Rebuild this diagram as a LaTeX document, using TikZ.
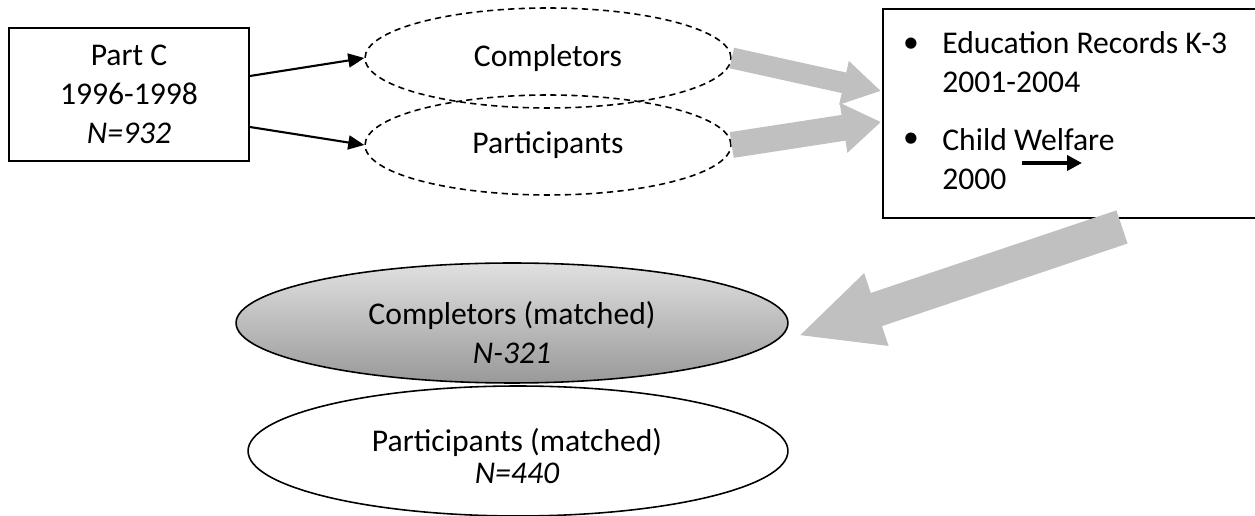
\documentclass[tikz,border=0pt]{standalone}
\usepackage{fontspec}
\setmainfont{Carlito}
\usepackage{tikz}
\usetikzlibrary{shapes,arrows.meta,calc}
\definecolor{arrowgray}{HTML}{C0C0C0}
\tikzstyle{box} = [draw, line width=1.1pt, rectangle, inner sep=0pt, align=center]
\tikzstyle{dashellipse} = [draw, ellipse, line width=0.9pt, dash pattern=on 3.5pt off 2.5pt, minimum width=7.32cm, minimum height=2cm, inner sep=0pt]
\tikzstyle{matchellipse} = [draw, ellipse, line width=0.9pt, inner sep=0pt]
\tikzstyle{thinarrow} = [line width=1.2pt, -{Triangle[length=0.32cm,width=0.28cm]}]
\tikzstyle{fatarrow} = [arrowgray]

\begin{document}
\begin{tikzpicture}[x=0.02cm, y=-0.02cm, every node/.style={font=\fontsize{18}{22}\selectfont}]
	\useasboundingbox (0,0) rectangle (1255,516);
	% source
	\node[box, minimum width=4.8cm, minimum height=2.66cm] (partc) at (129,94.5) {Part C\\1996-1998\\\textit{N=932}};
	\node[dashellipse] (comp) at (548,58) {Completors};
	\node[dashellipse] (part) at (548,145) {Participants};
	\draw[thinarrow] ($(partc.east)+(0,-18.5)$) -- (comp.west);
	\draw[thinarrow] ($(partc.east)+(0,32.5)$) -- (part.west);
	% records
	\node[box, minimum width=7.54cm, minimum height=4.18cm] (recbox) at (1071.5,113.5) {};
	\node (bul1) at (911,45) {\textbullet};
	\node[anchor=west, align=left, inner sep=0pt] (edu) at (942,62) {Education Records K-3\\2001-2004};
	\node (bul2) at (911,140) {\textbullet};
	\node[anchor=west, align=left, inner sep=0pt] (cw) at (942,159) {Child Welfare\\2000};
	\coordinate (cwa) at (1022,163);
	\coordinate (cwb) at (1082,163);
	\draw[line width=2.2pt, -{Triangle[length=0.3cm,width=0.3cm]}] (cwa) -- (cwb);
	\draw[fatarrow, line width=0.42cm, -{Triangle[length=0.76cm,width=0.84cm]}] (comp.east) -- ($(recbox.west)+(-1,-22.5)$);
	\draw[fatarrow, line width=0.52cm, -{Triangle[length=0.76cm,width=0.96cm]}] (part.east) -- ($(recbox.west)+(-1,8.5)$);
	% matched
	\node[matchellipse, top color=black!12, bottom color=black!40, minimum width=11.04cm, minimum height=2.4cm] (compm) at (512,323) {};
	\node[align=center] (compmtxt) at (512,332.5) {Completors (matched)\\\textit{N-321}};
	\node[matchellipse, fill=white, minimum width=10.8cm, minimum height=2.6cm] (partm) at (518,451) {};
	\node[align=center] (partmtxt) at (517,456) {Participants (matched)\\[-4pt]\textit{N=440}};
	\draw[fatarrow, line width=0.7cm, -{Triangle[length=1.66cm,width=1.4cm]}] ($(recbox.south)+(50.5,8)$) -- ($(compm.east)+(9,13)$);
\end{tikzpicture}
\end{document}
